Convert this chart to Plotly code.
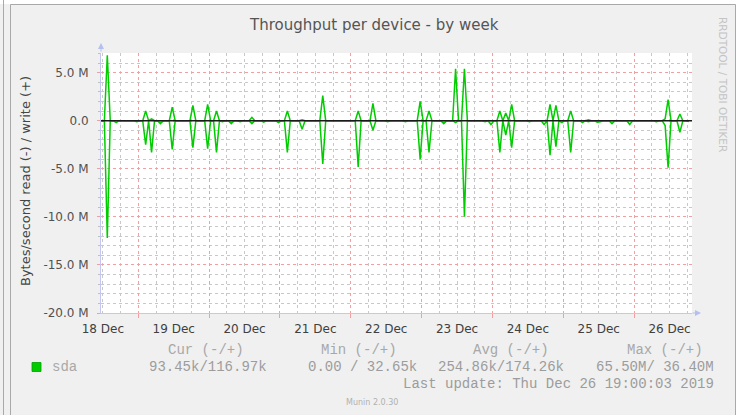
import plotly.graph_objects as go
import pandas as pd
import numpy as np

# ---------------- data ----------------
title_text = "Throughput per device - by week"
y_title = "Bytes/second read (-) / write (+)"
series_name = "sda"

start_time = "2019-12-18 11:30"   # first hourly sample
n_hours = 200
x_start = "2019-12-18 11:22"
x_end = "2019-12-26 19:36"

# hours (from start_time) where activity is visible, with values in MB/s
spike_hour = [2, 5, 12, 15, 17, 20, 24, 31, 36, 39,
              41, 44, 47, 51, 55, 60, 63, 68, 75, 87,
              92, 97, 103, 108, 111, 116, 120, 123, 130, 132,
              135, 137, 139, 145, 150, 152, 154, 156, 159, 163,
              165, 168, 169, 173, 179, 188, 191, 192, 196, 199]
write_M = [6.8, 0, 0, 1.0, 0.2, 0, 1.4, 1.6, 1.7, 1.0,
           0, 0, 0, 0.35, 0, 0, 1.0, 0.1, 2.6, 1.0,
           1.8, 0, 0, 2.0, 1.0, 0, 5.4, 5.4, 0, 0,
           1.0, 0.8, 1.7, 0, 0, 1.7, 1.6, 0, 1.0, 0,
           0.1, 0, 0, 0, 0, 0, 0.2, 2.2, 0.7, 0]
read_M = [12.2, 0.2, 0.1, 2.5, 3.3, 0.3, 3.0, 2.8, 2.9, 3.3,
          0.1, 0.3, 0.1, 0.3, 0.15, 0.2, 3.3, 0.9, 4.5, 4.8,
          1.0, 0.1, 0.1, 4.0, 3.3, 0.3, 0.2, 10.0, 0.1, 0.4,
          3.3, 1.5, 2.8, 0.1, 0.4, 3.6, 2.7, 0.2, 3.3, 0.2,
          0.1, 0.15, 0.1, 0.3, 0.4, 0.1, 0.5, 4.9, 1.2, 0.1]

y_tickvals = [-20, -15, -10, -5, 0, 5]
y_ticktext = ["-20.0 M", "-15.0 M", "-10.0 M", "-5.0 M", "0.0", "5.0 M"]
y_range = [-20, 7.04]

day_labels_at = ["2019-12-18 12:00", "2019-12-19 12:00", "2019-12-20 12:00",
                 "2019-12-21 12:00", "2019-12-22 12:00", "2019-12-23 12:00",
                 "2019-12-24 12:00", "2019-12-25 12:00", "2019-12-26 12:00"]
day_labels = ["18 Dec", "19 Dec", "20 Dec", "21 Dec", "22 Dec",
              "23 Dec", "24 Dec", "25 Dec", "26 Dec"]

legend_headers = ["Cur (-/+)", "Min (-/+)", "Avg (-/+)", "Max (-/+)"]
legend_values = ["93.45k/116.97k", "0.00 / 32.65k", "254.86k/174.26k", "65.50M/ 36.40M"]
last_update = "Last update: Thu Dec 26 19:00:03 2019"
munin_version = "Munin 2.0.30"
rrd_credit = "RRDTOOL / TOBI OETIKER"

# ---------------- build series ----------------
times = pd.date_range(start_time, periods=n_hours, freq="h")
write_series = np.zeros(n_hours)
read_series = np.zeros(n_hours)
for h, w, r in zip(spike_hour, write_M, read_M):
    write_series[h] = w
    read_series[h] = -r

W, H = 746, 415
L, R, T, B = 101, 692, 53, 313


def px(x):
    return (x - L) / (R - L)


def py(y):
    return (B - y) / (B - T)


GREEN = "#00cc00"
SANS = "DejaVu Sans"
MONO = "Liberation Mono"

fig = go.Figure()
fig.add_trace(go.Scatter(x=times, y=write_series, mode="lines", name=series_name,
                         line=dict(color=GREEN, width=1.5), xaxis="x", yaxis="y",
                         showlegend=False))
fig.add_trace(go.Scatter(x=times, y=read_series, mode="lines", name=series_name,
                         line=dict(color=GREEN, width=1.5), xaxis="x2", yaxis="y",
                         showlegend=False))

grid_red = "#f0a0a0"
grid_grey = "#c8c8c8"
axis_blue = "#c6c6f2"

fig.update_layout(
    width=W, height=H,
    margin=dict(l=L, r=W - R, t=T, b=H - B, autoexpand=False),
    paper_bgcolor="#f0f0f0",
    plot_bgcolor="#ffffff",
    showlegend=False,
    xaxis=dict(
        type="date", range=[x_start, x_end],
        tickmode="array", tickvals=day_labels_at, ticktext=day_labels,
        showgrid=False, zeroline=False, ticks="",
        tickfont=dict(family=SANS, size=12, color="#404040"),
        ticklabelstandoff=5,
        showline=True, linecolor=axis_blue, linewidth=1,
        automargin=False, fixedrange=True,
    ),
    xaxis2=dict(
        type="date", range=[x_start, x_end], overlaying="x", anchor="y", side="bottom",
        tick0="2019-12-19", dtick=86400000,
        showticklabels=False, showgrid=True, gridcolor=grid_red, griddash="dot", gridwidth=1,
        ticks="outside", ticklen=4, tickcolor=grid_red,
        minor=dict(dtick=6 * 3600000, showgrid=True, gridcolor=grid_grey,
                   griddash="dot", gridwidth=1),
        zeroline=False, showline=False, automargin=False, fixedrange=True,
    ),
    yaxis=dict(
        range=y_range, tickmode="array", tickvals=y_tickvals, ticktext=y_ticktext,
        showgrid=True, gridcolor=grid_red, griddash="dot", gridwidth=1,
        minor=dict(dtick=1, showgrid=True, gridcolor=grid_grey, griddash="dot",
                   gridwidth=1, ticks="outside", ticklen=2, tickcolor="#c0c0c0"),
        ticks="outside", ticklen=3, tickcolor=grid_red,
        tickfont=dict(family=SANS, size=12, color="#505050"),
        ticklabelstandoff=6,
        zeroline=False, showline=True, linecolor=axis_blue, linewidth=1,
        automargin=False, fixedrange=True,
    ),
)

shapes = []
# page / frame
shapes.append(dict(type="rect", xref="paper", yref="paper", x0=px(736), x1=px(W + 2),
                   y0=py(H + 2), y1=py(-2), fillcolor="#ffffff", line=dict(width=0), layer="below"))
shapes.append(dict(type="rect", xref="paper", yref="paper", x0=px(-2), x1=px(W + 2),
                   y0=py(4), y1=py(-2), fillcolor="#ffffff", line=dict(width=0), layer="below"))
frame = "#a9a9a9"
shapes.append(dict(type="line", xref="paper", yref="paper", x0=px(3.5), x1=px(3.5),
                   y0=py(H + 2), y1=py(-2), line=dict(color=frame, width=1)))
shapes.append(dict(type="line", xref="paper", yref="paper", x0=px(10.5), x1=px(10.5),
                   y0=py(H + 2), y1=py(4.5), line=dict(color=frame, width=1)))
shapes.append(dict(type="line", xref="paper", yref="paper", x0=px(10.5), x1=px(735.5),
                   y0=py(4.5), y1=py(4.5), line=dict(color=frame, width=1)))
shapes.append(dict(type="line", xref="paper", yref="paper", x0=px(735.5), x1=px(735.5),
                   y0=py(H + 2), y1=py(4.5), line=dict(color=frame, width=1)))
# zero line drawn over the data
shapes.append(dict(type="line", xref="paper", yref="y", x0=0, x1=1, y0=0, y1=0,
                   line=dict(color="#1a1a1a", width=1.4), layer="above"))
# legend swatch
shapes.append(dict(type="rect", xref="paper", yref="paper", x0=px(32), x1=px(41),
                   y0=py(371.5), y1=py(362.5), fillcolor=GREEN,
                   line=dict(color="#00a000", width=0.8)))
fig.update_layout(shapes=shapes)

ann = []
ann.append(dict(text=title_text, x=px(374), y=py(25), xref="paper", yref="paper",
                showarrow=False, xanchor="center", yanchor="middle",
                font=dict(family=SANS, size=15, color="#555555")))
ann.append(dict(text=y_title, x=px(25), y=py(181), xref="paper", yref="paper",
                showarrow=False, xanchor="center", yanchor="middle", textangle=-90,
                font=dict(family=SANS, size=13, color="#454545")))
ann.append(dict(text=rrd_credit, x=px(723), y=py(85), xref="paper", yref="paper",
                showarrow=False, xanchor="center", yanchor="middle", textangle=90,
                font=dict(family=SANS, size=10.5, color="#c4c4c4")))
# axis arrows
ann.append(dict(text="", x=px(101), y=py(43), xref="paper", yref="paper",
                showarrow=True, ax=0, ay=10, arrowhead=2, arrowsize=1.2, arrowwidth=1,
                arrowcolor="#b4c0f0"))
ann.append(dict(text="", x=px(701), y=py(313), xref="paper", yref="paper",
                showarrow=True, ax=-10, ay=0, arrowhead=2, arrowsize=1.2, arrowwidth=1,
                arrowcolor="#b4c0f0"))
# legend block
ann.append(dict(text=series_name, x=px(50), y=py(367), xref="paper", yref="paper",
                showarrow=False, xanchor="left", yanchor="middle",
                font=dict(family=MONO, size=14, color="#a8a8a8")))
header_cx = [206, 359, 511, 665]
value_cx = [208, 362, 501, 655]
for txt, cx in zip(legend_headers, header_cx):
    ann.append(dict(text=txt, x=px(cx), y=py(350), xref="paper", yref="paper",
                    showarrow=False, xanchor="center", yanchor="middle",
                    font=dict(family=MONO, size=14, color="#a8a8a8")))
for txt, cx in zip(legend_values, value_cx):
    ann.append(dict(text=txt, x=px(cx), y=py(367), xref="paper", yref="paper",
                    showarrow=False, xanchor="center", yanchor="middle",
                    font=dict(family=MONO, size=14, color="#9c9c9c")))
ann.append(dict(text=last_update, x=px(716), y=py(384), xref="paper", yref="paper",
                showarrow=False, xanchor="right", yanchor="middle",
                font=dict(family=MONO, size=14, color="#9c9c9c")))
ann.append(dict(text=munin_version, x=px(372), y=py(402), xref="paper", yref="paper",
                showarrow=False, xanchor="center", yanchor="middle",
                font=dict(family=SANS, size=8, color="#b0b0b0")))
fig.update_layout(annotations=ann)

fig.write_html("out.html", config={"displayModeBar": False, "staticPlot": True},
               post_script="document.body.style.margin='0';")
